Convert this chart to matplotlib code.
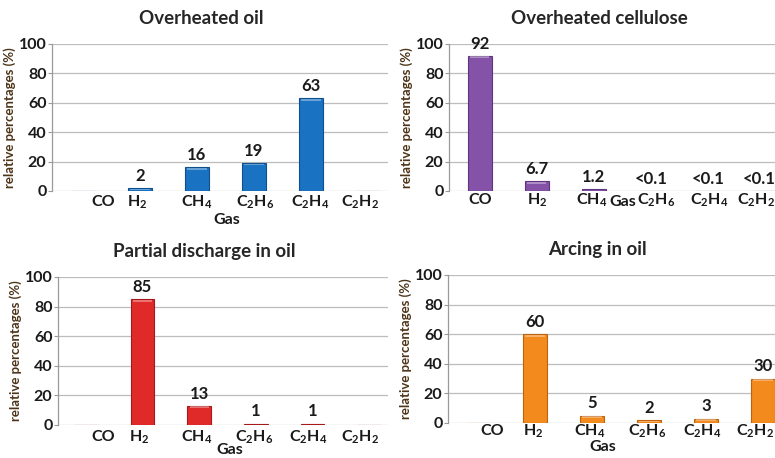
import matplotlib
matplotlib.use("Agg")
import matplotlib.pyplot as plt

plt.rcParams['font.family'] = ['Lato', 'DejaVu Sans']
plt.rcParams['font.weight'] = 'bold'
plt.rcParams['mathtext.default'] = 'regular'

# ---- data ----
gases = ["CO", "H$_2$", "CH$_4$", "C$_2$H$_6$", "C$_2$H$_4$", "C$_2$H$_2$"]

titles = ["Overheated oil", "Overheated cellulose", "Partial discharge in oil", "Arcing in oil"]

oil_values = [0, 2, 16, 19, 63, 0]
oil_labels = ["", "2", "16", "19", "63", ""]

cellulose_values = [92, 6.7, 1.2, 0.05, 0.05, 0.05]
cellulose_labels = ["92", "6.7", "1.2", "<0.1", "<0.1", "<0.1"]

pd_values = [0, 85, 13, 1, 1, 0]
pd_labels = ["", "85", "13", "1", "1", ""]

arc_values = [0, 60, 5, 2, 3, 30]
arc_labels = ["", "60", "5", "2", "3", "30"]

yticks = [0, 20, 40, 60, 80, 100]

colors = ["#1a72c2", "#8452a6", "#e02a2a", "#f28a1e"]
edges = ["#0f4f8c", "#5e3580", "#a81818", "#c0620c"]

# ---- layout (pixels in a 775x458 figure) ----
W, H = 775, 458
panels = [
    dict(rect=(52, 388, 44, 191), xlim=(-0.54, 5.35), title=(201, 18),
         gas=(227, 220), catx=[0.35, 0.96, 2.0, 3.02, 3.98, 4.86], caty=11,
         nudge=[0, 0, 0, 0, 0, 0], vals=oil_values, labs=oil_labels),
    dict(rect=(449, 775, 44, 191), xlim=(-0.54, 5.18), title=(599, 18),
         gas=(623, 202), catx=[0.0, 1.0, 1.96, 3.1, 4.03, 4.84], caty=9,
         nudge=[0, 0, 0, 0, 0, -6], vals=cellulose_values, labs=cellulose_labels),
    dict(rect=(58, 388, 277, 425), xlim=(-0.49, 5.33), title=(204, 252),
         gas=(230, 450), catx=[0.3, 0.95, 1.96, 2.96, 3.93, 4.84], caty=12,
         nudge=[0, 0, 0, 0, 0, 0], vals=pd_values, labs=pd_labels),
    dict(rect=(448, 775, 275, 423), xlim=(-0.53, 5.21), title=(597, 250),
         gas=(603, 447), catx=[0.25, 0.96, 1.96, 2.96, 3.93, 4.86], caty=8,
         nudge=[0, 0, 0, 0, 0, 0], vals=arc_values, labs=arc_labels),
]

fig = plt.figure(figsize=(W / 100, H / 100), dpi=100)
fig.patch.set_facecolor("white")

for i, p in enumerate(panels):
    l, r, t, b = p["rect"]
    ax = fig.add_axes([l / W, 1 - b / H, (r - l) / W, (b - t) / H])
    x = list(range(len(gases)))
    ax.bar(x, p["vals"], width=0.42, color=colors[i], edgecolor=edges[i],
           linewidth=0.8, zorder=3)
    # light highlight at top of bars
    for xi, v in zip(x, p["vals"]):
        if v >= 2:
            ax.bar(xi, 1.2, bottom=v - 1.6, width=0.34, color="white",
                   alpha=0.35, linewidth=0, zorder=4)
    ax.set_xlim(*p["xlim"])
    ax.set_ylim(0, 100)
    ax.set_yticks(yticks)
    ax.set_yticklabels([str(v) for v in yticks], fontsize=11.5, fontweight="bold",
                       color="#1a1a1a")
    ax.tick_params(axis="y", length=3, width=0.8, color="#9a9a9a", pad=1)
    ax.set_xticks([])
    ax.grid(axis="y", color="#bdbdbd", linewidth=0.9, zorder=0)
    ax.set_axisbelow(True)
    for s in ["top", "right", "bottom"]:
        ax.spines[s].set_visible(False)
    ax.spines["left"].set_color("#9a9a9a")
    ax.spines["left"].set_linewidth(0.9)
    ax.set_ylabel("relative percentages (%)", fontsize=9.5, fontweight="bold",
                  color="#4d3418")
    ax.yaxis.set_label_coords(-36 / (r - l), 0.5)

    # value labels
    for xi, v, lab, nd in zip(x, p["vals"], p["labs"], p["nudge"]):
        if lab:
            ax.annotate(lab, (xi, v), xytext=(nd * 0.72, 3), textcoords="offset points",
                        ha="center", va="bottom", fontsize=12, fontweight="bold",
                        color="#1a1a1a", annotation_clip=False)
    # category labels
    for cx, g in zip(p["catx"], gases):
        ax.annotate(g, (cx, 0), xytext=(0, -p["caty"] * 0.72),
                    textcoords="offset points", ha="center", va="center",
                    fontsize=11.5, fontweight="bold", color="#1a1a1a",
                    annotation_clip=False)
    fig.text(p["gas"][0] / W, 1 - p["gas"][1] / H, "Gas", ha="center",
             va="center", fontsize=11.5, fontweight="bold", color="#1a1a1a")
    fig.text(p["title"][0] / W, 1 - p["title"][1] / H, titles[i], ha="center",
             va="center", fontsize=13.5, fontweight="bold", color="#262626")

fig.savefig("out.png", dpi=100, facecolor="white")
